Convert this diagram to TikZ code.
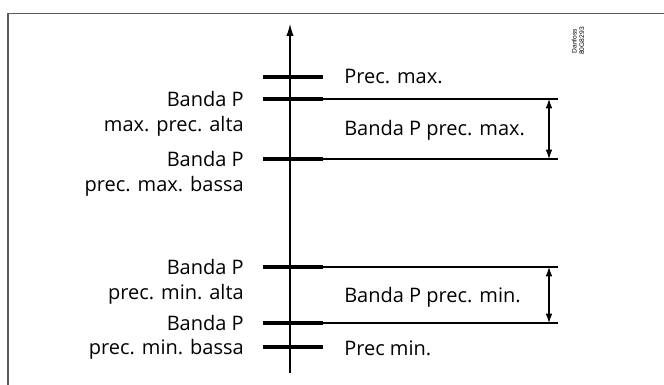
\documentclass[tikz,border=0pt]{standalone}
\usepackage{fontspec}
\setmainfont{Open Sans}
\newfontfamily\codefont{Liberation Sans}
\usetikzlibrary{arrows.meta}
\begin{document}
\begin{tikzpicture}[x=0.75pt,y=-0.75pt,
  bar/.style={line width=3.6pt},
  thin/.style={line width=0.8pt},
  lbl/.style={font=\fontsize{15}{17}\selectfont, inner sep=0pt},
  llbl/.style={lbl, anchor=east},
  rlbl/.style={lbl, anchor=west},
  dim/.style={thin, {Latex[length=7pt,width=5pt]}-{Latex[length=7pt,width=5pt]}}
]
\useasboundingbox (0,0) rectangle (664,385);
\fill[white] (0,0) rectangle (664,385);
% frame
\draw[line width=1.3pt, black!65] (8,385) -- (8,13.5) -- (664,13.5);
% axis
\coordinate (ab) at (290,373);
\coordinate (at) at (290,24);
\draw[thin, -{Latex[length=9pt,width=5.5pt]}] (ab) -- (at);
% bars
\foreach \n/\y in {b1/77, b2/99, b3/159, b4/267, b5/323, b6/347}{
  \coordinate (\n l) at (263,\y);
  \coordinate (\n r) at (323,\y);
  \draw[bar] (\n l) -- (\n r);
}
% extension lines
\foreach \n/\y in {e2/99, e3/159, e4/267, e5/323}{
  \coordinate (\n) at (558,\y);
}
\draw[thin] (b2r) -- (e2);
\draw[thin] (b3r) -- (e3);
\draw[thin] (b4r) -- (e4);
\draw[thin] (b5r) -- (e5);
% dimension arrows
\coordinate (d1a) at (549,99); \coordinate (d1b) at (549,159);
\coordinate (d2a) at (549,267); \coordinate (d2b) at (549,323);
\draw[dim] (d1a) -- (d1b);
\draw[dim] (d2a) -- (d2b);
% right labels
\node[rlbl] (t1) at (344,77) {Prec. max.};
\node[rlbl] (t2) at (344,130) {Banda P prec. max.};
\node[rlbl] (t3) at (344,297) {Banda P prec. min.};
\node[rlbl] (t4) at (344,348) {Prec min.};
% left labels
\node[llbl] (l1) at (244,99) {Banda P};
\node[llbl] (l2) at (244,126) {max. prec. alta};
\node[llbl] (l3) at (244,159) {Banda P};
\node[llbl] (l4) at (244,186) {prec. max. bassa};
\node[llbl] (l5) at (244,267) {Banda P};
\node[llbl] (l6) at (244,294) {prec. min. alta};
\node[llbl] (l7) at (244,323) {Banda P};
\node[llbl] (l8) at (244,349) {prec. min. bassa};
% code
\node[font=\codefont\fontsize{5}{5.5}\selectfont, rotate=90, align=center, inner sep=0pt] (code) at (578,41) {Danfoss\\80G8293};
\end{tikzpicture}
\end{document}
